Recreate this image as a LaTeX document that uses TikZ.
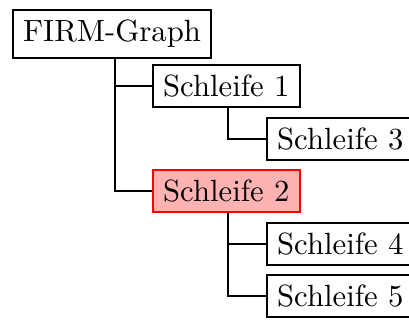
\documentclass[tikz,border=0pt]{standalone}
\usetikzlibrary{positioning}
\begin{document}
\begin{tikzpicture}[x=0.3257pt,y=-0.3257pt,
  box/.style={draw,semithick,anchor=west,inner sep=0.3333em},
  hl/.style={box,draw=red,fill=red!30},
  conn/.style={draw,thin}]
\useasboundingbox (0,0) rectangle (409,320);
\node[box] (root) at (12,34) {FIRM-Graph};
\node[box] (s1) at (152,86) {Schleife 1};
\node[box] (s3) at (266,139) {Schleife 3};
\node[hl]  (s2) at (152,191) {Schleife 2};
\node[box] (s4) at (266,244) {Schleife 4};
\node[box] (s5) at (266,296) {Schleife 5};
\coordinate (r0) at (115,0);
\coordinate (a0) at (228,0);
\draw[conn] (r0 |- root.south) |- (s1.west);
\draw[conn] (r0 |- root.south) |- (s2.west);
\draw[conn] (a0 |- s1.south) |- (s3.west);
\draw[conn] (a0 |- s2.south) |- (s4.west);
\draw[conn] (a0 |- s2.south) |- (s5.west);
\end{tikzpicture}
\end{document}
